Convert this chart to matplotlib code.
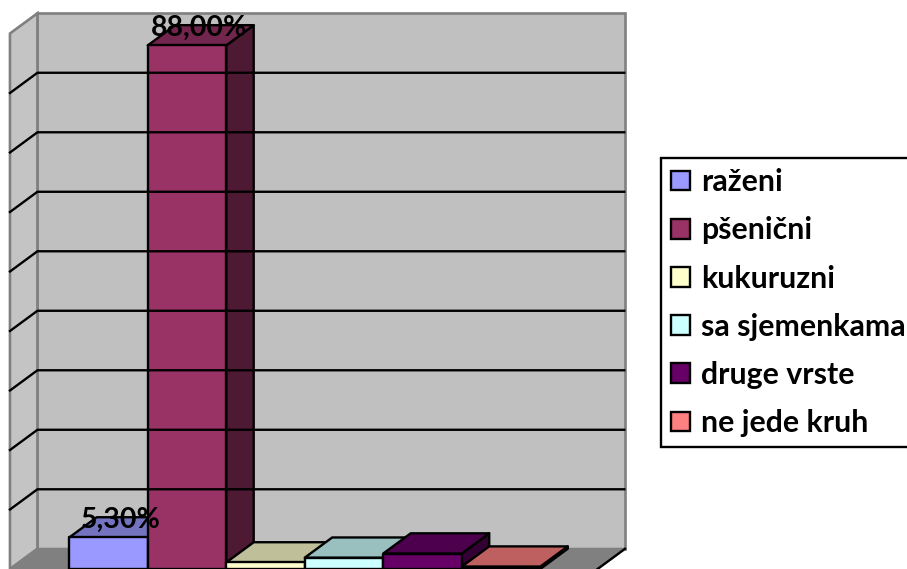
import matplotlib
matplotlib.use("Agg")
import matplotlib.pyplot as plt
from matplotlib.patches import Polygon, Patch

plt.rcParams['font.family'] = ['Lato', 'DejaVu Sans']

# data
categories = ['raženi', 'pšenični', 'kukuruzni', 'sa sjemenkama', 'druge vrste', 'ne jede kruh']
values = [5.3, 88.0, 1.1, 1.9, 2.6, 0.4]
labels = ['5,30%', '88,00%', None, None, None, None]
front_colors = ['#9999FF', '#993366', '#FFFFCC', '#CCFFFF', '#660066', '#FF8080']
top_colors = ['#7373BF', '#73264D', '#BFBF99', '#99BFBF', '#4D004D', '#BF6060']
side_colors = ['#4D4D80', '#4D1933', '#808066', '#668080', '#330033', '#804040']
grid_values = [10, 20, 30, 40, 50, 60, 70, 80]

fig = plt.figure(figsize=(9.07, 5.69), dpi=100)
ax = fig.add_axes([0, 0, 1, 1])
ax.set_xlim(-1.382, 10.172)
ax.set_ylim(0, 95.63)
ax.axis('off')

# depth of the 3d look, in data units
dx = 0.35
dy = 3.4
left = -1.255
right = 6.23
ymax = 90

# walls and floor
ax.add_patch(Polygon([(left + dx, dy), (left + dx, ymax + dy), (right + dx, ymax + dy), (right + dx, dy)],
                     fc='#C0C0C0', ec='#808080', lw=1.9))
ax.add_patch(Polygon([(left, 0), (left, ymax), (left + dx, ymax + dy), (left + dx, dy)],
                     fc='#C4C4C4', ec='#808080', lw=1.9))
ax.add_patch(Polygon([(left, 0), (left + dx, dy), (right + dx, dy), (right, 0)],
                     fc='#808080', ec='#808080', lw=1.5))
ax.plot([right, right + dx], [0, dy], color='black', lw=1.7)

for g in grid_values:
    ax.plot([left, left + dx, right + dx - 0.01], [g, g + dy, g + dy], color='black', lw=1.7)

# bars
for i, v in enumerate(values):
    x0, x1 = i - 0.5, i + 0.5
    ax.add_patch(Polygon([(x1, 0), (x1 + dx, dy), (x1 + dx, v + dy), (x1, v)],
                         fc=side_colors[i], ec='black', lw=1.7, joinstyle='round'))
    ax.add_patch(Polygon([(x0, v), (x0 + dx, v + dy), (x1 + dx, v + dy), (x1, v)],
                         fc=top_colors[i], ec='black', lw=1.7, joinstyle='round'))
    ax.add_patch(Polygon([(x0, 0), (x0, v), (x1, v), (x1, 0)],
                         fc=front_colors[i], ec='black', lw=1.7, joinstyle='round'))

for i, v in enumerate(values):
    if labels[i]:
        ax.text(i + 0.15, v + 0.75, labels[i], ha='center', va='bottom', fontsize=20.5,
                fontweight='bold', color='black', zorder=10)

handles = [Patch(fc=c, ec='black', lw=1.7) for c in front_colors]
leg = ax.legend(handles, categories, loc='upper left', bbox_to_anchor=(661 / 907, 1 - 158 / 569),
                borderaxespad=0, prop={'size': 21.8, 'weight': 'bold'}, frameon=True, fancybox=False,
                edgecolor='black', framealpha=1, handlelength=0.62, handleheight=0.62, handletextpad=0.35,
                labelspacing=0.665, borderpad=0.34)
leg.get_frame().set_linewidth(1.7)

fig.savefig('out.png', dpi=100)
